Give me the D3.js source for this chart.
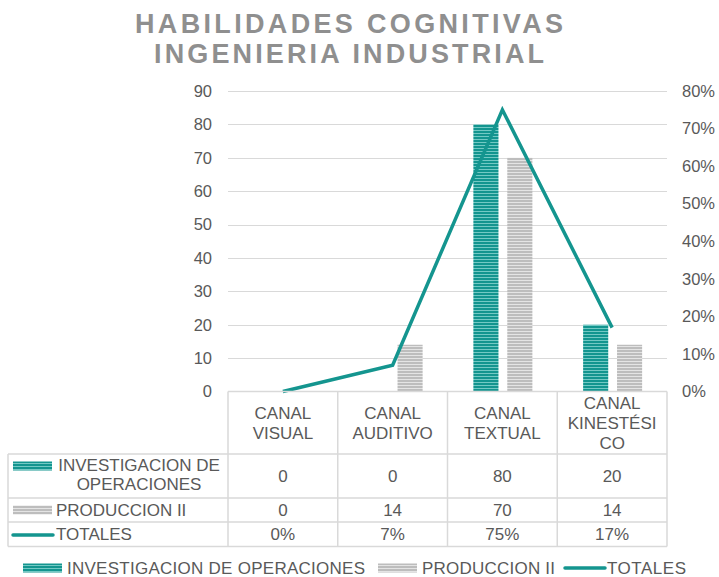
<!DOCTYPE html>
<html><head><meta charset="utf-8">
<script src="https://cdn.jsdelivr.net/npm/d3@7"></script>
<style>
html,body{margin:0;padding:0;background:#fff;}
text{font-family:"Liberation Sans",Arial,sans-serif;}
</style></head>
<body>
<svg id="chart" width="719" height="577"></svg>
<script>
const categories = ["CANAL VISUAL","CANAL AUDITIVO","CANAL TEXTUAL","CANAL KINESTÉSICO"];
const categoryLines = [["CANAL","VISUAL"],["CANAL","AUDITIVO"],["CANAL","TEXTUAL"],["CANAL","KINESTÉSI","CO"]];
const seriesNames = ["INVESTIGACION DE OPERACIONES","PRODUCCION II","TOTALES"];
const investigacion = [0,0,80,20];
const produccion = [0,14,70,14];
const totales = [0,0.07,0.75,0.17];
const leftTicks = [0,10,20,30,40,50,60,70,80,90];
const rightTicks = [0,0.1,0.2,0.3,0.4,0.5,0.6,0.7,0.8];
const titleLines = ["HABILIDADES COGNITIVAS","INGENIERIA INDUSTRIAL"];

const svg = d3.select("#chart");
const txt = "#595959", grid = "#d9d9d9", teal = "#14958f";
const defs = svg.append("defs");
function stripe(id, base, light){
  const p = defs.append("pattern").attr("id",id).attr("patternUnits","userSpaceOnUse")
    .attr("width",6).attr("height",3);
  p.append("rect").attr("width",6).attr("height",3).attr("fill",base);
  p.append("rect").attr("y",1).attr("width",6).attr("height",1).attr("fill",light);
}
stripe("pTeal","#13958f","#73c9c4");
stripe("pGray","#bdbdbd","#e4e4e4");

const x = d3.scaleBand().domain(categories).range([228,667]).padding(0);
const y = d3.scaleLinear().domain([0,90]).range([391.5,91]);
const y2 = d3.scaleLinear().domain([0,0.8]).range([391.5,91]);
const sub = d3.scaleBand().domain(["a","b"]).range([0,59]).paddingInner(0.26);

// title
titleLines.forEach((t,i)=>{
  svg.append("text").attr("x",349).attr("y",[33,63][i]).attr("text-anchor","middle")
    .attr("font-size",27).attr("font-weight","bold").attr("fill","#8f8f8f")
    .attr("textLength",[428,390][i]).attr("lengthAdjust","spacing").text(t);
});

// gridlines
svg.append("g").selectAll("line").data(leftTicks.filter(d=>d>0)).join("line")
  .attr("x1",228).attr("x2",667).attr("y1",d=>Math.round(y(d))+0.5).attr("y2",d=>Math.round(y(d))+0.5)
  .attr("stroke",grid).attr("stroke-width",1);

// axes
const gl = svg.append("g").attr("transform","translate(228,0)")
  .call(d3.axisLeft(y).tickValues(leftTicks).tickSize(0).tickPadding(16));
gl.select(".domain").remove();
gl.selectAll("text").attr("font-size",16.5).attr("fill",txt).attr("font-family","Liberation Sans, Arial, sans-serif");
const gr = svg.append("g").attr("transform","translate(667,0)")
  .call(d3.axisRight(y2).tickValues(rightTicks).tickFormat(d3.format(".0%")).tickSize(0).tickPadding(15));
gr.select(".domain").remove();
gr.selectAll("text").attr("font-size",16.5).attr("fill",txt).attr("font-family","Liberation Sans, Arial, sans-serif");

// bars
const off = d => x(d)+x.bandwidth()/2-29;
svg.append("g").selectAll("rect").data(categories).join("rect")
  .attr("x",(d)=>off(d)+sub("a")).attr("width",sub.bandwidth())
  .attr("y",(d,i)=>y(investigacion[i])).attr("height",(d,i)=>y(0)-y(investigacion[i]))
  .attr("fill","url(#pTeal)");
svg.append("g").selectAll("rect").data(categories).join("rect")
  .attr("x",(d)=>off(d)+sub("b")).attr("width",sub.bandwidth())
  .attr("y",(d,i)=>y(produccion[i])).attr("height",(d,i)=>y(0)-y(produccion[i]))
  .attr("fill","url(#pGray)");

// line
const line = d3.line().x((d,i)=>x(categories[i])+x.bandwidth()/2).y(d=>y2(d));
svg.append("path").datum(totales).attr("d",line).attr("fill","none")
  .attr("stroke",teal).attr("stroke-width",3.5).attr("stroke-linejoin","miter");

// data table
const tb = svg.append("g");
const rowsY = [391.5,454,498,522,546.5];
const colX = categories.map(c=>x(c)).concat([667]);
const hl = (x1,x2,yy)=>tb.append("line").attr("x1",x1).attr("x2",x2).attr("y1",yy).attr("y2",yy).attr("stroke",grid).attr("stroke-width",1.5);
const vl = (xx,y1,y2)=>tb.append("line").attr("x1",xx).attr("x2",xx).attr("y1",y1).attr("y2",y2).attr("stroke",grid).attr("stroke-width",1.5);
hl(228,667,rowsY[0]);
rowsY.slice(1).forEach(r=>hl(8,667,r));
colX.forEach(cx=>vl(cx,rowsY[0],rowsY[4]));
vl(8,rowsY[1],rowsY[4]);

// header labels
categories.forEach((c,i)=>{
  const lines = categoryLines[i];
  const cy = (rowsY[0]+rowsY[1])/2;
  const t = tb.append("text").attr("text-anchor","middle").attr("font-size",17).attr("fill",txt);
  lines.forEach((l,j)=>{
    t.append("tspan").attr("x",x(c)+x.bandwidth()/2)
      .attr("y",cy+(j-(lines.length-1)/2)*20+6).text(l);
  });
});
// rows
const rowData = [investigacion.map(String), produccion.map(String), totales.map(d3.format(".0%"))];
rowData.forEach((r,ri)=>{
  const cy = (rowsY[ri+1]+rowsY[ri+2])/2;
  r.forEach((v,ci)=>{
    tb.append("text").attr("x",x(categories[ci])+x.bandwidth()/2).attr("y",cy+6)
      .attr("text-anchor","middle").attr("font-size",17).attr("fill",txt).text(v);
  });
});
// row headers with keys
function key(g, kind, kx, ky){
  if(kind===2){
    g.append("line").attr("x1",kx).attr("x2",kx+40).attr("y1",ky).attr("y2",ky)
      .attr("stroke",teal).attr("stroke-width",3.5).attr("stroke-linecap","round");
  } else {
    g.append("rect").attr("x",kx).attr("y",ky-4.5).attr("width",39).attr("height",9)
      .attr("fill",kind===0?"url(#pTeal)":"url(#pGray)");
  }
}
// row 1 (two lines)
key(tb,0,13,466);
const r1 = tb.append("text").attr("text-anchor","middle").attr("font-size",17).attr("fill",txt);
r1.append("tspan").attr("x",139).attr("y",471).text("INVESTIGACION DE");
r1.append("tspan").attr("x",139).attr("y",490).text("OPERACIONES");
key(tb,1,13,510);
tb.append("text").attr("x",56).attr("y",516).attr("font-size",17).attr("fill",txt).text(seriesNames[1]);
key(tb,2,13,535);
tb.append("text").attr("x",56).attr("y",540).attr("font-size",17).attr("fill",txt).text(seriesNames[2]);

// bottom legend
const lg = svg.append("g");
const legX = [23,378,565];
const legW = [298,133,79];
seriesNames.forEach((s,i)=>{
  key(lg,i,legX[i],568);
  lg.append("text").attr("x",legX[i]+(i===2?42:44)).attr("y",573.5).attr("font-size",17)
    .attr("textLength",legW[i]).attr("lengthAdjust","spacing").attr("fill",txt).text(s);
});
</script>
</body></html>
